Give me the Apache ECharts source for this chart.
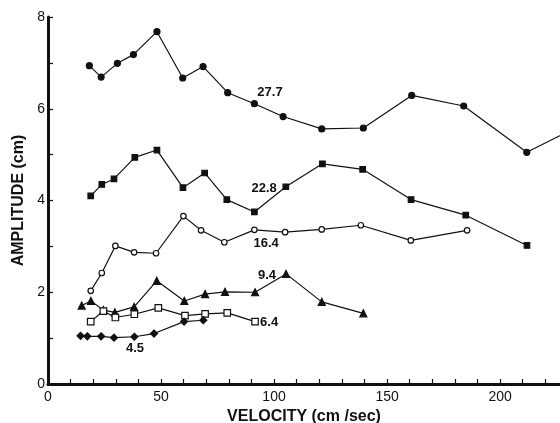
<!DOCTYPE html>
<html>
<head>
<meta charset="utf-8">
<script src="https://cdn.jsdelivr.net/npm/echarts@6/dist/echarts.min.js"></script>
<style>
  html, body { margin: 0; padding: 0; background: #fff; }
  #chart { width: 560px; height: 423px; }
</style>
</head>
<body>
<div id="chart"></div>
<script>
// velocity (cm/sec) vs amplitude (cm), one curve per labelled parameter
const s277 = [[18.3, 6.94], [23.5, 6.69], [30.7, 6.99], [37.8, 7.18], [48.2, 7.68], [59.6, 6.67], [68.6, 6.92],
  [79.5, 6.35], [91.3, 6.11], [104, 5.83], [121.1, 5.56], [139.5, 5.58], [160.9, 6.29], [183.9, 6.06],
  [211.8, 5.05], [240, 5.75]];
const s228 = [[18.9, 4.10], [23.8, 4.35], [29.2, 4.47], [38.4, 4.94], [48.2, 5.10], [59.7, 4.28], [69.3, 4.60],
  [79.1, 4.02], [91.3, 3.75], [105.2, 4.30], [121.4, 4.80], [139.2, 4.68], [160.6, 4.02], [184.8, 3.68],
  [211.9, 3.02]];
const s164 = [[18.9, 2.03], [23.8, 2.42], [29.8, 3.01], [38.1, 2.87], [47.8, 2.85], [59.9, 3.66], [67.7, 3.35],
  [78.0, 3.09], [91.3, 3.36], [104.9, 3.31], [121.1, 3.37], [138.4, 3.46], [160.5, 3.13], [185.4, 3.35]];
const s94 = [[14.9, 1.71], [19.0, 1.81], [24.5, 1.61], [29.6, 1.56], [38.1, 1.68], [48.1, 2.25], [60.3, 1.81],
  [69.5, 1.96], [78.3, 2.01], [91.6, 2.00], [105.3, 2.40], [121.1, 1.79], [139.5, 1.54]];
const s64 = [[18.9, 1.36], [24.5, 1.59], [29.8, 1.45], [38.2, 1.52], [48.8, 1.66], [60.6, 1.49], [69.5, 1.53],
  [79.3, 1.55], [91.6, 1.36]];
const s45 = [[14.4, 1.05], [17.4, 1.04], [23.5, 1.04], [29.2, 1.01], [38.2, 1.03], [46.9, 1.10], [60.2, 1.36],
  [68.7, 1.39]];
const curveNames = ['27.7', '22.8', '16.4', '9.4', '6.4', '4.5'];
const xLabels = [0, 50, 100, 150, 200];
const yLabels = [0, 2, 4, 6, 8];

const chart = echarts.init(document.getElementById('chart'));
const font = '"Liberation Sans", Arial, sans-serif';

function curve(name, data, symbol, size, fill, labelAt) {
  return {
    name: name,
    type: 'line',
    data: data,
    symbol: symbol,
    symbolSize: size,
    clip: true,
    lineStyle: { color: '#111', width: 1.2 },
    itemStyle: { color: fill, borderColor: '#111', borderWidth: 1.2 },
    emphasis: { disabled: true },
    markPoint: {
      symbol: 'circle',
      symbolSize: 1,
      silent: true,
      itemStyle: { color: 'rgba(0,0,0,0)', borderWidth: 0 },
      label: {
        show: true, formatter: name, color: '#111', fontSize: 13, fontWeight: 'bold',
        fontFamily: font, position: 'inside'
      },
      data: [{ coord: labelAt }]
    },
    z: 3
  };
}

chart.setOption({
  animation: false,
  backgroundColor: '#fff',
  grid: { left: 48, right: 0, top: 17, bottom: 39, containLabel: false, outerBoundsMode: 'none' },
  xAxis: {
    type: 'value',
    min: 0,
    max: 226.5,
    interval: 10,
    name: 'VELOCITY (cm /sec)',
    nameLocation: 'middle',
    nameGap: 24,
    nameTextStyle: { color: '#111', fontSize: 16, fontWeight: 'bold', fontFamily: font },
    axisLine: { lineStyle: { color: '#111', width: 3 } },
    axisTick: { inside: true, length: 5, lineStyle: { color: '#111', width: 1.2 } },
    axisLabel: {
      color: '#111', fontSize: 14, fontFamily: font, margin: 6, showMaxLabel: false,
      formatter: (v) => (xLabels.indexOf(v) >= 0 ? String(v) : '')
    },
    splitLine: { show: false }
  },
  yAxis: {
    type: 'value',
    min: 0,
    max: 8,
    interval: 1,
    name: 'AMPLITUDE (cm)',
    nameLocation: 'middle',
    nameGap: 21,
    nameRotate: 90,
    nameTextStyle: { color: '#111', fontSize: 16, fontWeight: 'bold', fontFamily: font },
    axisLine: { lineStyle: { color: '#111', width: 3 } },
    axisTick: { inside: true, length: 5, lineStyle: { color: '#111', width: 1.2 } },
    axisLabel: {
      color: '#111', fontSize: 14, fontFamily: font, margin: 3,
      formatter: (v) => (yLabels.indexOf(v) >= 0 ? String(v) : '')
    },
    splitLine: { show: false }
  },
  series: [
    curve(curveNames[0], s277, 'circle', 6, '#111', [98.2, 6.36]),
    curve(curveNames[1], s228, 'rect', 5.5, '#111', [95.6, 4.27]),
    curve(curveNames[2], s164, 'circle', 5.5, '#fff', [96.5, 3.07]),
    curve(curveNames[3], s94, 'triangle', 7, '#111', [96.9, 2.37]),
    curve(curveNames[4], s64, 'rect', 6.5, '#fff', [97.8, 1.35]),
    curve(curveNames[5], s45, 'diamond', 7, '#111', [38.5, 0.78])
  ]
});
</script>
</body>
</html>
